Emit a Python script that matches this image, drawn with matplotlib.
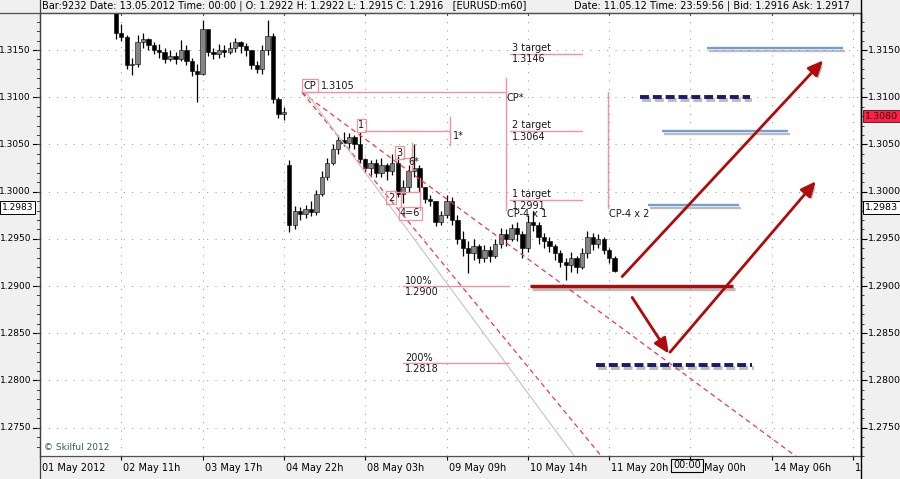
import matplotlib
matplotlib.use('Agg')
import matplotlib.pyplot as plt
import matplotlib.transforms as mtransforms
import matplotlib.patheffects as pe
from matplotlib.patches import FancyArrowPatch
from matplotlib.lines import Line2D

# ---------------- data (EURUSD, 2-hour steps on an H1 axis) ----------------
bar_step = 2
first_bar = 28
first_open = 1.3195
gap_opens = {32: 1.3028}          # weekend gap
closes = [1.3168, 1.3164, 1.3134, 1.3135, 1.3158, 1.3162, 1.3155, 1.3150, 1.3148, 1.3140,
          1.3144, 1.3140, 1.3150, 1.3138, 1.3128, 1.3125, 1.3172, 1.3148, 1.3146, 1.3150,
          1.3148, 1.3152, 1.3158, 1.3154, 1.3150, 1.3134, 1.3130, 1.3150, 1.3165, 1.3098,
          1.3082, 1.3084, 1.2965, 1.2980, 1.2976, 1.2982, 1.2978, 1.2998, 1.3016, 1.3030,
          1.3045, 1.3055, 1.3052, 1.3058, 1.3050, 1.3035, 1.3025, 1.3030, 1.3020, 1.3028,
          1.3022, 1.3030, 1.2998, 1.3005, 1.3022, 1.3025, 1.3005, 1.2992, 1.2990, 1.2968,
          1.2975, 1.2990, 1.2970, 1.2950, 1.2940, 1.2935, 1.2942, 1.2930, 1.2938, 1.2932,
          1.2945, 1.2955, 1.2950, 1.2962, 1.2955, 1.2940, 1.2968, 1.2965, 1.2952, 1.2948,
          1.2942, 1.2935, 1.2925, 1.2922, 1.2930, 1.2920, 1.2935, 1.2952, 1.2945, 1.2950,
          1.2938, 1.2930, 1.2916]
highs = [1.3200, 1.3178, 1.3166, 1.3142, 1.3166, 1.3168, 1.3163, 1.3158, 1.3156, 1.3152,
         1.3150, 1.3148, 1.3161, 1.3155, 1.3142, 1.3135, 1.3182, 1.3170, 1.3152, 1.3156,
         1.3155, 1.3158, 1.3163, 1.3160, 1.3157, 1.3150, 1.3138, 1.3155, 1.3182, 1.3168,
         1.3100, 1.3090, 1.3034, 1.2985, 1.2984, 1.2986, 1.2990, 1.3002, 1.3022, 1.3036,
         1.3050, 1.3060, 1.3063, 1.3062, 1.3060, 1.3063, 1.3036, 1.3034, 1.3035, 1.3036,
         1.3030, 1.3040, 1.3038, 1.3012, 1.3028, 1.3050, 1.3028, 1.3005, 1.2996, 1.2990,
         1.2980, 1.2996, 1.2994, 1.2975, 1.2958, 1.2948, 1.2950, 1.2945, 1.2944, 1.2942,
         1.2950, 1.2962, 1.2960, 1.2966, 1.2968, 1.2958, 1.2975, 1.2980, 1.2968, 1.2956,
         1.2952, 1.2945, 1.2938, 1.2930, 1.2936, 1.2932, 1.2940, 1.2958, 1.2956, 1.2955,
         1.2952, 1.2940, 1.2932]
lows = [1.3162, 1.3160, 1.3130, 1.3124, 1.3132, 1.3152, 1.3150, 1.3146, 1.3142, 1.3136,
        1.3138, 1.3135, 1.3138, 1.3134, 1.3122, 1.3095, 1.3124, 1.3144, 1.3140, 1.3142,
        1.3143, 1.3146, 1.3148, 1.3147, 1.3144, 1.3130, 1.3126, 1.3125, 1.3145, 1.3094,
        1.3078, 1.3076, 1.2957, 1.2960, 1.2970, 1.2972, 1.2974, 1.2975, 1.2995, 1.3012,
        1.3028, 1.3040, 1.3048, 1.3046, 1.3045, 1.3030, 1.3020, 1.3018, 1.3015, 1.3016,
        1.3012, 1.3018, 1.2994, 1.2988, 1.3000, 1.3015, 1.3000, 1.2988, 1.2985, 1.2964,
        1.2965, 1.2972, 1.2965, 1.2945, 1.2932, 1.2914, 1.2928, 1.2924, 1.2926, 1.2925,
        1.2930, 1.2940, 1.2942, 1.2948, 1.2948, 1.2930, 1.2936, 1.2958, 1.2945, 1.2940,
        1.2936, 1.2928, 1.2920, 1.2906, 1.2915, 1.2914, 1.2918, 1.2930, 1.2938, 1.2940,
        1.2934, 1.2924, 1.2915]

x_tick_pos = [0, 30, 60, 90, 120, 150, 180, 210, 240, 270, 300]
x_tick_labels = ['01 May 2012', '02 May 11h', '03 May 17h', '04 May 22h', '08 May 03h',
                 '09 May 09h', '10 May 14h', '11 May 20h', 'May 00h', '14 May 06h', '1']
y_ticks = [1.2750, 1.2800, 1.2850, 1.2900, 1.2950, 1.3000, 1.3050, 1.3100, 1.3150]
y_labels = ['1.2750', '1.2800', '1.2850', '1.2900', '1.2950', '1.3000', '1.3050', '1.3100', '1.3150']

cp_price = 1.3105
target_prices = [1.2991, 1.3064, 1.3146]
target_names = ['1 target', '2 target', '3 target']
level_prices = [1.2900, 1.2818]
level_names = ['100%', '200%']
marker_price = 1.3080
last_box_price = 1.2983

# ---------------- figure ----------------
W, H = 900, 479
BG = '#f0f0f0'
PINK = '#f4939f'
RED_DASH = '#f23848'
fig = plt.figure(figsize=(W / 100, H / 100), dpi=100)
fig.patch.set_facecolor(BG)
ax = fig.add_axes([40 / W, 23 / H, 821 / W, 443 / H])
ax.set_facecolor('white')
ax.set_xlim(0, 302.95)
ax.set_ylim(1.27204, 1.31892)
for s in ['left', 'top', 'bottom']:
    ax.spines[s].set_color('#505050')
    ax.spines[s].set_linewidth(0.9)
ax.spines['right'].set_color('black')
ax.spines['right'].set_linewidth(1.0)

# grid
ax.hlines(y_ticks, 0, 302.95, colors='#9a9a9a', lw=0.75, linestyles=(0, (1, 7)), zorder=1)
ax.vlines(x_tick_pos[1:], 1.27204, 1.31892, colors='#9a9a9a', lw=0.75, linestyles=(0, (1, 7)), zorder=1)

# ticks
ax.set_xticks(x_tick_pos)
ax.set_xticklabels([''] * len(x_tick_pos))
ax.tick_params(axis='x', direction='out', length=3, width=0.8, color='black')
ax.yaxis.tick_right()
ax.set_yticks(y_ticks)
ax.set_yticklabels([''] * len(y_ticks))
ax.set_yticks([1.2720 + 0.001 * i for i in range(47)], minor=True)
ax.tick_params(axis='y', which='major', direction='out', length=4, width=0.8, color='black')
ax.tick_params(axis='y', which='minor', direction='out', length=2, width=0.7, color='#404040')

# candles
n = len(closes)
tpos = [first_bar + bar_step * i for i in range(n)]
opens = [first_open] + closes[:-1]
for k, v in gap_opens.items():
    opens[k] = v
ax.vlines(tpos, lows, highs, colors='black', lw=0.9, zorder=3)
bottoms = [min(o, c) for o, c in zip(opens, closes)]
heights = [max(abs(c - o), 0.00006) for o, c in zip(opens, closes)]
cols = ['#858585' if c >= o else 'black' for o, c in zip(opens, closes)]
ax.bar(tpos, heights, bottom=bottoms, width=1.6, color=cols, edgecolor='black', lw=0.4, zorder=4)

# ---------------- analysis drawings ----------------
tk = dict(fontsize=7, color='#1a1a1a', zorder=6, family='DejaVu Sans')
boxkw = dict(boxstyle='square,pad=0.15', fc='none', ec=PINK, lw=0.9)

# CP line, vertical and text
ax.plot([96.7, 172.0], [cp_price, cp_price], color=PINK, lw=1.0, zorder=5)
ax.plot([172.0, 172.0], [1.31205, 1.29807], color=PINK, lw=1.0, zorder=5)
ax.text(97.3, 1.3112, 'CP', va='center', ha='left', bbox=boxkw, **tk)
ax.text(103.6, 1.3112, '1.3105', va='center', ha='left', **tk)
ax.text(172.3, 1.30992, 'CP*', va='center', ha='left', **tk)

# fan lines from CP
ax.plot([96.7, 290.0], [cp_price, 1.26963], color=RED_DASH, lw=0.9, ls=(0, (4, 3)), zorder=5)
ax.plot([96.7, 212.0], [cp_price, 1.27030], color=RED_DASH, lw=0.9, ls=(0, (4, 3)), zorder=5)
ax.plot([98.2, 201.0], [cp_price, 1.27050], color='#c8c8c8', lw=0.9, zorder=5)

# wave points
ax.text(118.5, 1.30701, '1', va='center', ha='center', bbox=boxkw, **tk)
ax.plot([119.9, 151.3], [1.30643, 1.30643], color=PINK, lw=1.0, zorder=5)
ax.plot([151.3, 151.3], [1.30791, 1.30495], color=PINK, lw=1.0, zorder=5)
ax.text(152.2, 1.3059, '1*', va='center', ha='left', **tk)

ax.text(132.5, 1.30410, '3', va='center', ha='center', bbox=boxkw, **tk)
ax.plot([134.0, 137.3], [1.30357, 1.30357], color=PINK, lw=1.0, zorder=5)
ax.plot([137.3, 137.3], [1.30516, 1.30230], color=PINK, lw=1.0, zorder=5)
ax.text(136.0, 1.30315, '6*', va='center', ha='left', **tk)

ax.text(129.5, 1.29934, '2', va='center', ha='center', bbox=boxkw, **tk)
ax.plot([131.0, 140.2], [1.29998, 1.29998], color=PINK, lw=1.0, zorder=5)
ax.plot([140.2, 140.2], [1.30146, 1.29807], color=PINK, lw=1.0, zorder=5)
ax.plot([133.2, 133.2], [1.29998, 1.29840], color=PINK, lw=1.0, zorder=5)
ax.text(136.6, 1.29770, '4=6', va='center', ha='center', bbox=boxkw, **tk)

# targets
for p, name in zip(target_prices, target_names):
    ax.plot([173.4, 200.0], [p, p], color=PINK, lw=1.0, zorder=5)
    ax.text(174.2, p + 0.00062, name, va='center', ha='left', **tk)
    ax.text(174.2, p - 0.00058, f'{p:.4f}', va='center', ha='left', **tk)
ax.text(172.3, 1.29760, 'CP-4 x 1', va='center', ha='left', **tk)
ax.plot([209.6, 209.6], [1.3106, 1.29828], color=PINK, lw=1.0, zorder=5)
ax.text(210.0, 1.29765, 'CP-4 x 2', va='center', ha='left', **tk)

for p, name in zip(level_prices, level_names):
    ax.plot([134.0, 173.1], [p, p], color=PINK, lw=1.0, zorder=5)
    ax.text(134.7, p + 0.00058, name, va='center', ha='left', **tk)
    ax.text(134.7, p - 0.00062, f'{p:.4f}', va='center', ha='left', **tk)

# forecast drawings
shadow_line = [pe.SimpleLineShadow(offset=(1.5, -2), shadow_color='#7a7a7a', alpha=0.5), pe.Normal()]
BLUE = '#729dd6'
for (t0, t1, p) in [(246.1, 296.3, 1.3152), (229.5, 276.0, 1.3064), (224.4, 257.9, 1.2986)]:
    ax.plot([t0, t1], [p, p], color=BLUE, lw=1.7, solid_capstyle='butt', zorder=6, path_effects=shadow_line)
NAVY = '#1b1b6b'
for (t0, t1, p) in [(221.4, 262.0, 1.3100), (205.2, 262.7, 1.2816)]:
    ax.plot([t0, t1], [p, p], color=NAVY, lw=2.8, ls=(0, (2.3, 1.0)), zorder=6, path_effects=shadow_line)
DRED = '#b10a0a'
ax.plot([180.8, 255.7], [1.2900, 1.2900], color=DRED, lw=2.4, solid_capstyle='butt', zorder=6, path_effects=shadow_line)

shadow_patch = [pe.SimplePatchShadow(offset=(1.5, -2), shadow_rgbFace='#7a7a7a', alpha=0.5), pe.Normal()]
for (a, b) in [((214.8, 1.2910), (289.0, 1.3139)),
               ((232.5, 1.2830), (286.3, 1.3011)),
               ((218.5, 1.2888), (232.0, 1.28285))]:
    arr = FancyArrowPatch(a, b, arrowstyle='-|>,head_length=0.45,head_width=0.2', mutation_scale=20,
                          color=DRED, lw=2.0, zorder=7, shrinkA=0, shrinkB=0, path_effects=shadow_patch)
    ax.add_patch(arr)

# ---------------- axis texts ----------------
fpx = lambda x: x / W
ytr = mtransforms.blended_transform_factory(fig.transFigure, ax.transData)
xtr = mtransforms.blended_transform_factory(ax.transData, fig.transFigure)
for p, lab in zip(y_ticks, y_labels):
    fig.text(fpx(868), 0, lab, transform=ytr, fontsize=6.8, va='center', ha='left').set_y(p)
    fig.text(fpx(31), 0, lab, transform=ytr, fontsize=6.5, va='center', ha='right').set_y(p)
    fig.add_artist(Line2D([fpx(33), fpx(39)], [p, p], transform=ytr, color='black', lw=0.8))
for i in range(47):
    pm = 1.2720 + 0.001 * i
    if 1.27204 < pm < 1.31892:
        fig.add_artist(Line2D([fpx(36.5), fpx(39)], [pm, pm], transform=ytr, color='#404040', lw=0.7))

for tx, lab in zip(x_tick_pos, x_tick_labels):
    if tx == 240:
        continue
    fig.text(0, (H - 468) / H, lab, transform=xtr, fontsize=7, va='center', ha='left').set_x(tx + 0.8)
    fig.add_artist(Line2D([tx, tx], [(H - 13) / H, (H - 15) / H], transform=xtr, color='#505050', lw=0.8))
fig.add_artist(Line2D([240, 240], [(H - 13) / H, (H - 15) / H], transform=xtr, color='#505050', lw=0.8))
fig.text(fpx(704), (H - 468) / H, 'May 00h', fontsize=7, va='center', ha='left')
fig.text(fpx(687), (H - 465.5) / H, '00:00', fontsize=7, va='center', ha='center',
         bbox=dict(boxstyle='square,pad=0.2', fc=BG, ec='black', lw=0.8))

# price boxes
fig.text(fpx(865), 0, f'{marker_price:.4f}', transform=ytr, fontsize=6.8, va='center', ha='left', color='#3a0000',
         bbox=dict(boxstyle='square,pad=0.2', fc='#ff1f4b', ec='#202020', lw=0.6)).set_y(marker_price)
fig.text(fpx(865), 0, f'{last_box_price:.4f}', transform=ytr, fontsize=6.8, va='center', ha='left',
         bbox=dict(boxstyle='square,pad=0.2', fc='white', ec='black', lw=0.7)).set_y(last_box_price)
fig.text(fpx(2), 0, f'{last_box_price:.4f}', transform=ytr, fontsize=6.5, va='center', ha='left',
         bbox=dict(boxstyle='square,pad=0.2', fc='white', ec='black', lw=0.7)).set_y(last_box_price)

# header
fig.add_artist(Line2D([0, fpx(861)], [(H - 13) / H] * 2, color='#505050', lw=0.9))
fig.add_artist(Line2D([fpx(39.5)] * 2, [0, 1], color='#404040', lw=0.9))
fig.add_artist(Line2D([fpx(861)] * 2, [0, 1], color='black', lw=1.0))
fig.text(fpx(42), (H - 6) / H,
         'Bar:9232 Date: 13.05.2012 Time: 00:00 | O: 1.2922 H: 1.2922 L: 1.2915 C: 1.2916   [EURUSD:m60]',
         fontsize=7, va='center', ha='left')
fig.text(fpx(850), (H - 6) / H, 'Date: 11.05.12 Time: 23:59:56 | Bid: 1.2916 Ask: 1.2917',
         fontsize=7, va='center', ha='right')
fig.text(fpx(44), (H - 447) / H, '\u00a9 Skilful 2012', fontsize=6.5, color='#2e5c5c', va='center', ha='left')

fig.savefig('out.png', dpi=100, facecolor=BG)
